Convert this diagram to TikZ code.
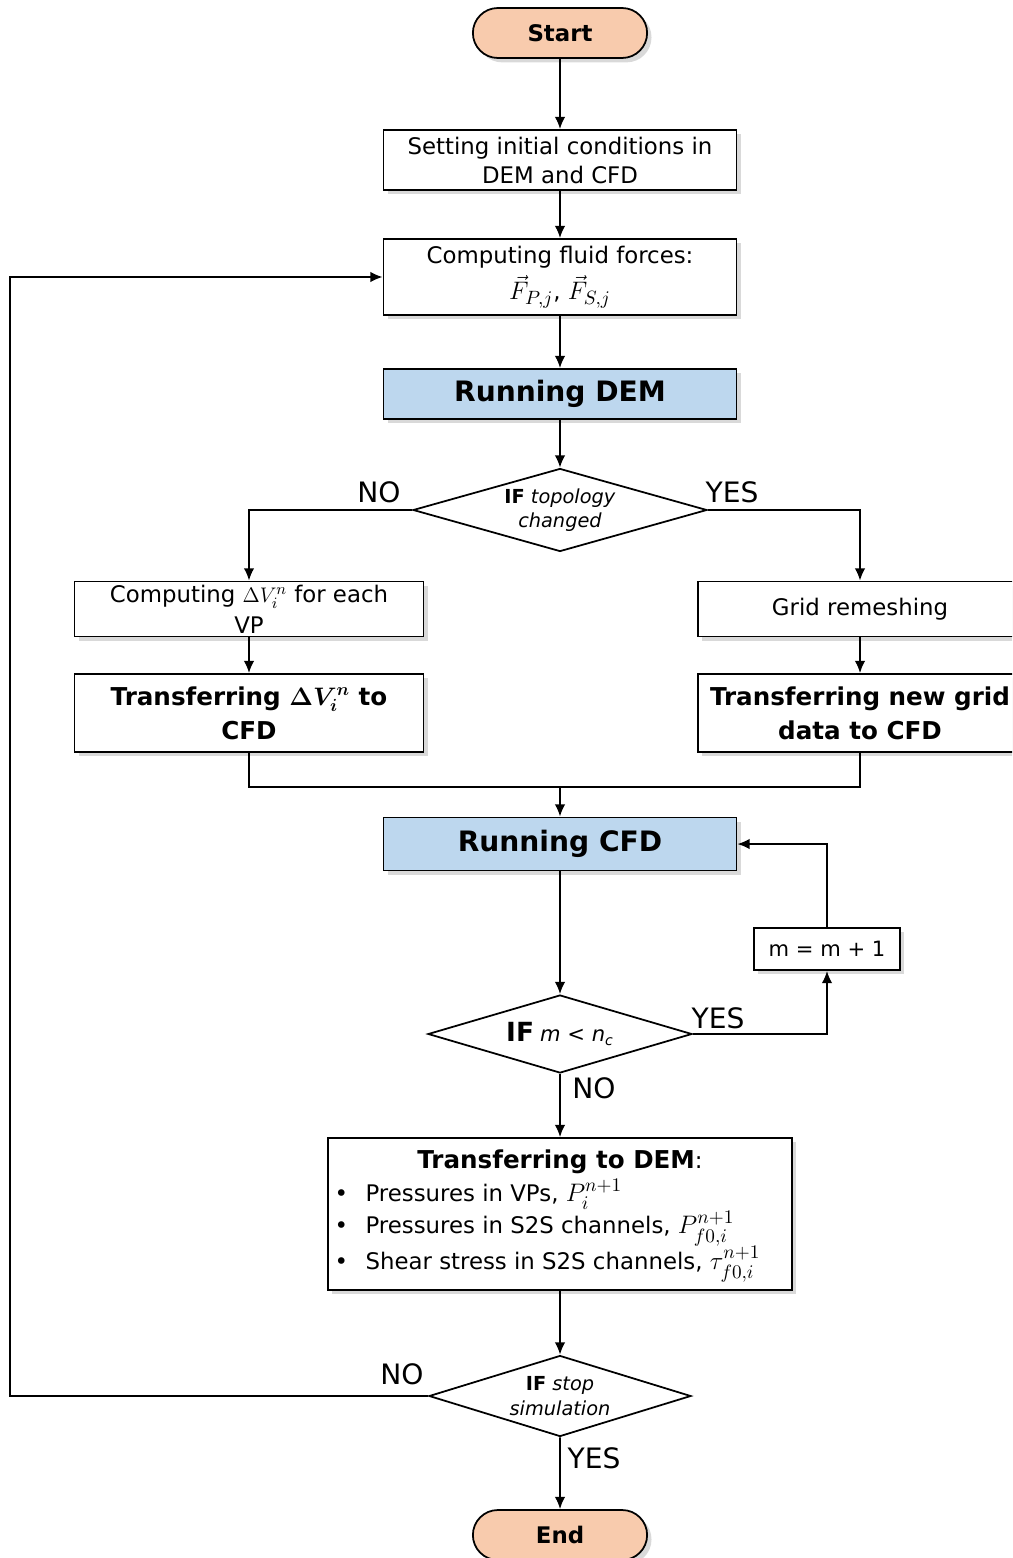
\documentclass[tikz,border=0pt]{standalone}
\usepackage{fontspec}
\setmainfont{DejaVu Sans}
\usepackage{amsmath}
\usepackage{amssymb}
\usepackage{bm}
\usepackage{tikz}
\usetikzlibrary{arrows,arrows.meta,shapes,positioning,shadows}

\definecolor{termpeach}{HTML}{F8CBAD}
\definecolor{runblue}{HTML}{BDD7EE}
\newcommand{\bigmath}[1]{{\fontsize{15}{17}\selectfont$#1$}}

\tikzset{
  stepbox/.style={rectangle, draw=black, line width=1pt, fill=white,
    drop shadow={shadow xshift=2.5pt, shadow yshift=-2.5pt, opacity=0.3},
    align=center, inner sep=2pt, font=\fontsize{13}{16.5}\selectfont},
  boldbox/.style={stepbox, font=\fontsize{14}{19.5}\selectfont\bfseries},
  runbox/.style={stepbox, fill=runblue, minimum width=7.06cm,
    font=\fontsize{16}{19}\selectfont\bfseries},
  termbox/.style={rounded rectangle, draw=black, line width=1pt, fill=termpeach,
    drop shadow={shadow xshift=2.5pt, shadow yshift=-2.5pt, opacity=0.3},
    minimum width=3.72cm, minimum height=1cm, font=\fontsize{13}{16}\selectfont\bfseries},
  decision/.style={diamond, draw=black, line width=1pt, fill=white, aspect=3.4,
    inner sep=0pt, align=center, font=\fontsize{11}{14}\selectfont},
  answer/.style={font=\fontsize{16}{19}\selectfont, inner sep=0pt},
  flow/.style={line width=1pt, -{Latex[length=7pt,width=6pt]}},
  link/.style={line width=1pt}
}

\begin{document}
\begin{tikzpicture}[x=0.02cm, y=-0.02cm]
\useasboundingbox (0,0) rectangle (1012,1558);
\clip (0,0) rectangle (1012,1558);

% main column
\node[termbox] (start) at (560,33) {Start};
\node[stepbox, minimum width=7.06cm, minimum height=1.2cm] (init) at (560,160)
    {Setting initial conditions in\\DEM and CFD};
\node[stepbox, minimum width=7.06cm, minimum height=1.52cm] (forces) at (560,277)
    {Computing fluid forces:\\[3pt] \bigmath{\vec{F}_{P,j}}, \bigmath{\vec{F}_{S,j}}};
\node[runbox, minimum height=1cm] (dem) at (560,394) {Running DEM};
\node[decision, minimum width=5.88cm, minimum height=1.66cm] (topo) at (560,510)
    {\textbf{IF} \textit{topology}\\\textit{changed}};

% topology branches
\node[stepbox, minimum width=6.98cm, minimum height=1.1cm,
    font=\fontsize{13}{17.5}\selectfont] (dvn) at (249,609)
    {Computing $\Delta V_i^n$ for each\\VP};
\node[boldbox, minimum width=6.98cm, minimum height=1.56cm] (dvtrans) at (249,713)
    {Transferring $\bm{\Delta V_i^n}$ to\\CFD};
\node[stepbox, minimum width=6.48cm, minimum height=1.1cm] (remesh) at (860,609)
    {Grid remeshing};
\node[boldbox, minimum width=6.48cm, minimum height=1.56cm] (gridtrans) at (860,713)
    {Transferring new grid\\data to CFD};
\coordinate (merge) at (560,787);

% CFD loop
\node[runbox, minimum height=1.06cm] (cfd) at (560,844) {Running CFD};
\node[stepbox, minimum width=2.92cm, minimum height=0.84cm,
    font=\fontsize{12}{15}\selectfont] (incr) at (827,949) {m = m + 1};
\node[decision, minimum width=5.28cm, minimum height=1.56cm] (mcheck) at (560,1034)
    {{\fontsize{15}{18}\selectfont\bfseries IF} {\fontsize{12}{15}\selectfont\itshape m < n\textsubscript{c}}};

\node[stepbox, minimum width=9.28cm, minimum height=3.04cm,
    font=\fontsize{13}{18.5}\selectfont] (todem) at (560,1214)
    {\begin{tabular}{@{}l@{\hspace{0.35cm}}l@{\hspace{0.5cm}}}
     \multicolumn{2}{@{}c@{}}{{\fontsize{14}{18.5}\selectfont\bfseries Transferring to DEM}:}\\
     \textbullet & Pressures in VPs, \bigmath{P_i^{n+1}}\\
     \textbullet & Pressures in S2S channels, \bigmath{P_{f0,i}^{n+1}}\\
     \textbullet & Shear stress in S2S channels, \bigmath{\tau_{f0,i}^{n+1}}
     \end{tabular}};

\node[decision, minimum width=5.24cm, minimum height=1.62cm] (stopq) at (560,1396)
    {\textbf{IF} \textit{stop}\\\textit{simulation}};
\coordinate (loopcorner) at (10,1396);
\node[termbox] (finish) at (560,1535) {End};

% answers
\node[answer] (topono) at (379,492) {NO};
\node[answer] (topoyes) at (732,492) {YES};
\node[answer] (myes) at (718,1018) {YES};
\node[answer] (mno) at (594,1088) {NO};
\node[answer] (stopno) at (402,1374) {NO};
\node[answer] (stopyes) at (594,1458) {YES};

% connectors
\draw[flow] (start) -- (init);
\draw[flow] (init) -- (forces);
\draw[flow] (forces) -- (dem);
\draw[flow] (dem) -- (topo);
\draw[flow] (topo.west) -| (dvn.north);
\draw[flow] (topo.east) -| (remesh.north);
\draw[flow] (dvn) -- (dvtrans);
\draw[flow] (remesh) -- (gridtrans);
\draw[link] (dvtrans.south) |- (merge) -| (gridtrans.south);
\draw[flow] (merge) -- (cfd);
\draw[flow] (cfd) -- (mcheck);
\draw[flow] (mcheck.east) -| (incr.south);
\draw[flow] (incr.north) |- (cfd.east);
\draw[flow] (mcheck) -- (todem);
\draw[flow] (todem) -- (stopq);
\draw[flow] (stopq.west) -- (loopcorner) |- (forces.west);
\draw[flow] (stopq) -- (finish);

\end{tikzpicture}
\end{document}
